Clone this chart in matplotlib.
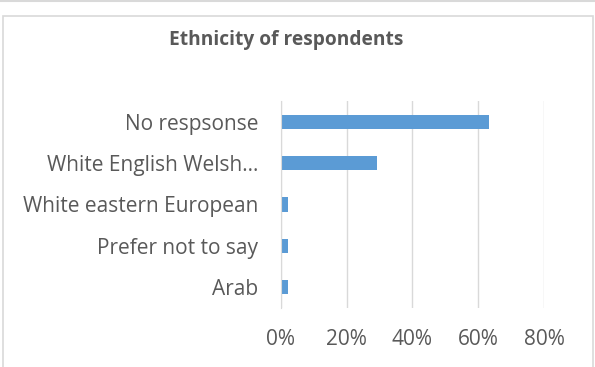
import matplotlib.pyplot as plt
from matplotlib.patches import Rectangle
from matplotlib.lines import Line2D
from matplotlib.ticker import FuncFormatter

# data (bottom to top, as drawn by barh)
categories = ['Arab', 'Prefer not to say', 'White eastern European',
              'White English Welsh\u2026', 'No respsonse']
shares = [0.023, 0.023, 0.023, 0.293, 0.634]
xticks = [0, 0.2, 0.4, 0.6, 0.8]

txt = '#595959'
grid = '#d9d9d9'
plt.rcParams['font.family'] = ['Open Sans', 'DejaVu Sans']

fig = plt.figure(figsize=(5.95, 3.67), dpi=100)
# outer frame lines like the screenshot
fig.add_artist(Line2D([0, 1], [0.997, 0.997], color=grid, lw=1.5, transform=fig.transFigure))
fig.add_artist(Rectangle((2.5 / 595, -0.01), 590 / 595, 1 - 16 / 367 + 0.01, fill=False,
                         ec=grid, lw=1.2, transform=fig.transFigure))

ax = fig.add_axes([280.7 / 595, 1 - 308 / 367, 263.3 / 595, 207 / 367])
ax.barh(range(len(categories)), shares, height=0.34, color='#5b9bd5')
ax.set_xlim(0, 0.8)
ax.set_ylim(-0.5, len(categories) - 0.5)
ax.set_xticks(xticks)
ax.xaxis.set_major_formatter(FuncFormatter(lambda v, p: f'{v * 100:.0f}%'))
ax.set_yticks(range(len(categories)))
ax.set_yticklabels(categories)
ax.tick_params(axis='both', length=0, labelsize=15, colors=txt)
ax.tick_params(axis='y', pad=16)
ax.tick_params(axis='x', pad=15)
ax.grid(axis='x', color=grid, lw=1)
ax.set_axisbelow(True)
for s in ['top', 'right', 'bottom']:
    ax.spines[s].set_visible(False)
ax.spines['left'].set_color(grid)

fig.text(286 / 595, 1 - 40 / 367, 'Ethnicity of respondents', ha='center', va='center',
         fontsize=13.8, fontweight='bold', color=txt)

fig.savefig('out.png', dpi=100)
